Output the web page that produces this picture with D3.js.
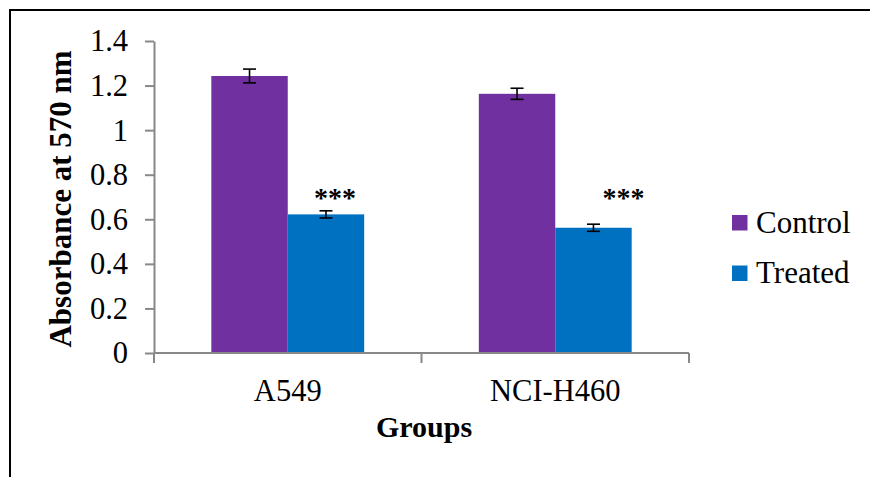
<!DOCTYPE html>
<html>
<head>
<meta charset="utf-8">
<script src="https://cdn.jsdelivr.net/npm/d3@7"></script>
<style>
    html, body { margin: 0; padding: 0; background: #fff; }
    svg { display: block; font-family: "Liberation Serif", "Times New Roman", serif; }
</style>
</head>
<body>
<div id="chart"></div>
<script>
// chart data
const groups = ['A549', 'NCI-H460'];
const seriesNames = ['Control', 'Treated'];
const controlValues = [1.243, 1.163];
const treatedValues = [0.622, 0.562];
const controlErrors = [0.031, 0.025];
const treatedErrors = [0.016, 0.016];
const significance = ['***', '***'];
const yTicks = [0, 0.2, 0.4, 0.6, 0.8, 1, 1.2, 1.4];
const yTickLabels = ['0', '0.2', '0.4', '0.6', '0.8', '1', '1.2', '1.4'];

const colors = { Control: '#7030A0', Treated: '#0070C0' };
const axisColor = '#888888';

const width = 870, height = 477;
const plot = { left: 154, right: 689, top: 41, bottom: 353 };

const svg = d3.select('#chart')
    .append('svg')
    .attr('width', width)
    .attr('height', height);

svg.append('rect')
    .attr('width', width)
    .attr('height', height)
    .attr('fill', '#fff');

// outer frame (only top and left edges fall inside the picture)
svg.append('path')
    .attr('d', `M10,${height} V10 H${width}`)
    .attr('fill', 'none')
    .attr('stroke', '#000')
    .attr('stroke-width', 2);

const x0 = d3.scaleBand()
    .domain(groups)
    .range([plot.left, plot.right])
    .padding(0);

const x1 = d3.scaleBand()
    .domain(seriesNames)
    .range([0, x0.bandwidth()])
    .paddingInner(0)
    .paddingOuter(0.75);

const y = d3.scaleLinear()
    .domain([0, 1.4])
    .range([plot.bottom, plot.top]);

// build rows for each bar
const rows = [];
groups.forEach((g, i) => {
    rows.push({ group: g, series: 'Control', value: controlValues[i], err: controlErrors[i] });
    rows.push({ group: g, series: 'Treated', value: treatedValues[i], err: treatedErrors[i] });
});

// bars
svg.append('g')
    .selectAll('rect')
    .data(rows)
    .enter()
    .append('rect')
    .attr('x', d => x0(d.group) + x1(d.series))
    .attr('y', d => y(d.value))
    .attr('width', x1.bandwidth())
    .attr('height', d => y(0) - y(d.value))
    .attr('fill', d => colors[d.series]);

// y axis: line and ticks from d3, labels set in serif below
const yAxis = d3.axisLeft(y)
    .tickValues(yTicks)
    .tickFormat(() => '')
    .tickSize(9)
    .tickSizeOuter(0);

const yg = svg.append('g')
    .attr('transform', `translate(${plot.left},0)`)
    .call(yAxis);
yg.select('.domain').attr('stroke', axisColor).attr('stroke-width', 2);
yg.selectAll('.tick line').attr('stroke', axisColor).attr('stroke-width', 2);

svg.append('g')
    .selectAll('text')
    .data(yTicks)
    .enter()
    .append('text')
    .attr('x', plot.left - 26)
    .attr('y', d => y(d))
    .attr('dy', '0.34em')
    .attr('text-anchor', 'end')
    .attr('font-size', 30.5)
    .text((d, i) => yTickLabels[i]);

// x axis line with tick marks at band edges
const xg = svg.append('g')
    .attr('transform', `translate(0,${plot.bottom})`);
xg.append('line')
    .attr('x1', plot.left)
    .attr('x2', plot.right)
    .attr('stroke', axisColor)
    .attr('stroke-width', 2);
const edges = groups.map(g => x0(g)).concat([plot.right]);
xg.selectAll('.edge')
    .data(edges)
    .enter()
    .append('line')
    .attr('x1', d => d)
    .attr('x2', d => d)
    .attr('y1', 0)
    .attr('y2', 10)
    .attr('stroke', axisColor)
    .attr('stroke-width', 2);
xg.selectAll('.cat')
    .data(groups)
    .enter()
    .append('text')
    .attr('x', d => x0(d) + x0.bandwidth() / 2)
    .attr('y', 48)
    .attr('text-anchor', 'middle')
    .attr('font-size', 30.5)
    .text(d => d);

// error bars
const capHalf = 6.5;
const eb = svg.append('g')
    .attr('stroke', '#000')
    .attr('stroke-width', 1.6);
rows.forEach(d => {
    const cx = x0(d.group) + x1(d.series) + x1.bandwidth() / 2;
    const top = y(d.value + d.err), bot = y(d.value - d.err);
    eb.append('line').attr('x1', cx).attr('x2', cx).attr('y1', top).attr('y2', bot);
    eb.append('line').attr('x1', cx - capHalf).attr('x2', cx + capHalf).attr('y1', top).attr('y2', top);
    eb.append('line').attr('x1', cx - capHalf).attr('x2', cx + capHalf).attr('y1', bot).attr('y2', bot);
});

// significance marks (placed by hand in the original, offset from the treated bar)
const starShift = [9, 30];
svg.append('g')
    .selectAll('text')
    .data(groups)
    .enter()
    .append('text')
    .attr('x', (d, i) => x0(d) + x1('Treated') + x1.bandwidth() / 2 + starShift[i])
    .attr('y', 207)
    .attr('text-anchor', 'middle')
    .attr('font-size', 28)
    .attr('font-weight', 'bold')
    .text((d, i) => significance[i]);

// axis titles
svg.append('text')
    .attr('transform', `translate(71,${(plot.top + plot.bottom) / 2 + 2}) rotate(-90)`)
    .attr('text-anchor', 'middle')
    .attr('font-size', 31)
    .attr('font-weight', 'bold')
    .text('Absorbance at 570 nm');

svg.append('text')
    .attr('x', 424)
    .attr('y', 437)
    .attr('text-anchor', 'middle')
    .attr('font-size', 30)
    .attr('font-weight', 'bold')
    .text('Groups');

// legend
const legend = svg.append('g')
    .attr('transform', 'translate(732,215)');
const li = legend.selectAll('g')
    .data(seriesNames)
    .enter()
    .append('g')
    .attr('transform', (d, i) => `translate(0,${i * 50.5})`);
li.append('rect')
    .attr('width', 15.5)
    .attr('height', 15.5)
    .attr('fill', d => colors[d]);
li.append('text')
    .attr('x', 24)
    .attr('y', 17.7)
    .attr('font-size', 31)
    .text(d => d);
</script>
</body>
</html>
